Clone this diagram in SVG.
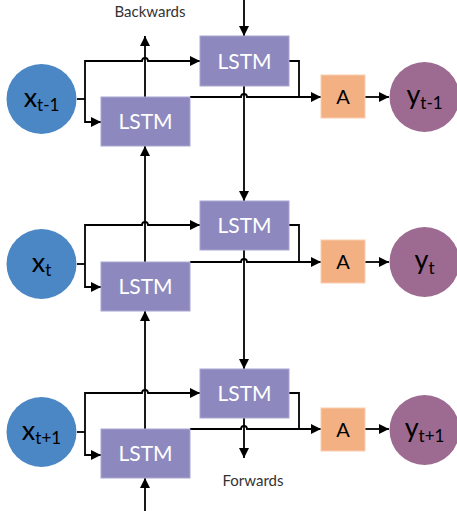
<svg xmlns="http://www.w3.org/2000/svg" width="457" height="511" viewBox="0 0 457 511">
<defs>
<marker id="ah" viewBox="0 0 10 10" refX="10" refY="5" markerWidth="10" markerHeight="10" markerUnits="userSpaceOnUse" orient="auto">
<path d="M0,0 L10,5 L0,10 z" fill="#000"/>
</marker>
</defs>
<style>
.ln{fill:none;stroke:#000;stroke-width:1.8}
.ar{marker-end:url(#ah)}
.lstm{fill:#8D89BE;stroke:#A9A6D2;stroke-width:1}
.a{fill:#F3B083;stroke:#F8CDB0;stroke-width:1}
.x{fill:#4A87C4}
.y{fill:#9D6B91}
.t{font-family:Lato,"Liberation Sans",Arial,sans-serif;text-anchor:middle}
.lt{font-size:21px;fill:#fff}
.at{font-size:20px;fill:#000}
.ct{font-size:27px;fill:#000}
.sub{font-size:17px}
.lab{font-size:15px;fill:#333}
</style>
<rect width="457" height="511" fill="#fff"/>
<g id="connectors">
<!-- row 1 -->
<path class="ln" d="M77,99 H85"/>
<path class="ln ar" d="M85,99 V61 H142 A3,3 0 0 1 148,61 H200"/>
<path class="ln ar" d="M85,99 V122 H101"/>
<path class="ln ar" d="M190,97 H241 A3,3 0 0 1 247,97 H321"/>
<path class="ln" d="M289,61 H299 V97"/>
<path class="ln ar" d="M365,97 H389"/>
<path class="ln ar" d="M145,97 V36"/>
<path class="ln ar" d="M244,0 V36"/>
<path class="ln ar" d="M244,86 V201"/>
<!-- row 2 -->
<path class="ln" d="M77,264 H85"/>
<path class="ln ar" d="M85,264 V225 H142 A3,3 0 0 1 148,225 H200"/>
<path class="ln ar" d="M85,264 V287 H101"/>
<path class="ln ar" d="M190,262 H241 A3,3 0 0 1 247,262 H321"/>
<path class="ln" d="M289,225 H299 V262"/>
<path class="ln ar" d="M365,262 H389"/>
<path class="ln ar" d="M145,262 V146"/>
<path class="ln ar" d="M244,250 V369"/>
<!-- row 3 -->
<path class="ln" d="M77,432 H85"/>
<path class="ln ar" d="M85,432 V393 H142 A3,3 0 0 1 148,393 H200"/>
<path class="ln ar" d="M85,432 V455 H101"/>
<path class="ln ar" d="M190,429 H241 A3,3 0 0 1 247,429 H321"/>
<path class="ln" d="M289,393 H299 V429"/>
<path class="ln ar" d="M365,429 H389"/>
<path class="ln ar" d="M145,429 V311"/>
<path class="ln ar" d="M244,418 V458"/>
<path class="ln ar" d="M145,511 V478"/>
</g>
<g id="x1"><circle class="x" cx="41.5" cy="99" r="35"/><text class="t ct" x="41.5" y="107">x<tspan class="sub" dy="4">t-1</tspan></text></g>
<g id="x2"><circle class="x" cx="41.5" cy="264" r="35"/><text class="t ct" x="41.5" y="272">x<tspan class="sub" dy="4">t</tspan></text></g>
<g id="x3"><circle class="x" cx="41.5" cy="432" r="35"/><text class="t ct" x="41.5" y="440">x<tspan class="sub" dy="4">t+1</tspan></text></g>
<g id="lb1"><rect class="lstm" x="101" y="97" width="89" height="49"/><text class="t lt" x="145.5" y="129">LSTM</text></g>
<g id="lb2"><rect class="lstm" x="101" y="262" width="89" height="49"/><text class="t lt" x="145.5" y="294">LSTM</text></g>
<g id="lb3"><rect class="lstm" x="101" y="429" width="89" height="49"/><text class="t lt" x="145.5" y="461">LSTM</text></g>
<g id="lf1"><rect class="lstm" x="200" y="36" width="89" height="50"/><text class="t lt" x="244.5" y="69">LSTM</text></g>
<g id="lf2"><rect class="lstm" x="200" y="201" width="89" height="49"/><text class="t lt" x="244.5" y="233">LSTM</text></g>
<g id="lf3"><rect class="lstm" x="200" y="369" width="89" height="49"/><text class="t lt" x="244.5" y="401">LSTM</text></g>
<g id="a1"><rect class="a" x="321" y="75" width="44" height="43"/><text class="t at" x="343" y="104">A</text></g>
<g id="a2"><rect class="a" x="321" y="240" width="44" height="43"/><text class="t at" x="343" y="269">A</text></g>
<g id="a3"><rect class="a" x="321" y="408" width="44" height="43"/><text class="t at" x="343" y="437">A</text></g>
<g id="y1"><circle class="y" cx="424.5" cy="97" r="35"/><text class="t ct" x="424.5" y="104">y<tspan class="sub" dy="5">t-1</tspan></text></g>
<g id="y2"><circle class="y" cx="424.5" cy="262" r="35"/><text class="t ct" x="424.5" y="269">y<tspan class="sub" dy="5">t</tspan></text></g>
<g id="y3"><circle class="y" cx="424.5" cy="430" r="35"/><text class="t ct" x="424.5" y="437">y<tspan class="sub" dy="5">t+1</tspan></text></g>
<g id="labels">
<text class="t lab" x="150" y="17">Backwards</text>
<text class="t lab" x="253" y="486">Forwards</text>
</g>
</svg>
